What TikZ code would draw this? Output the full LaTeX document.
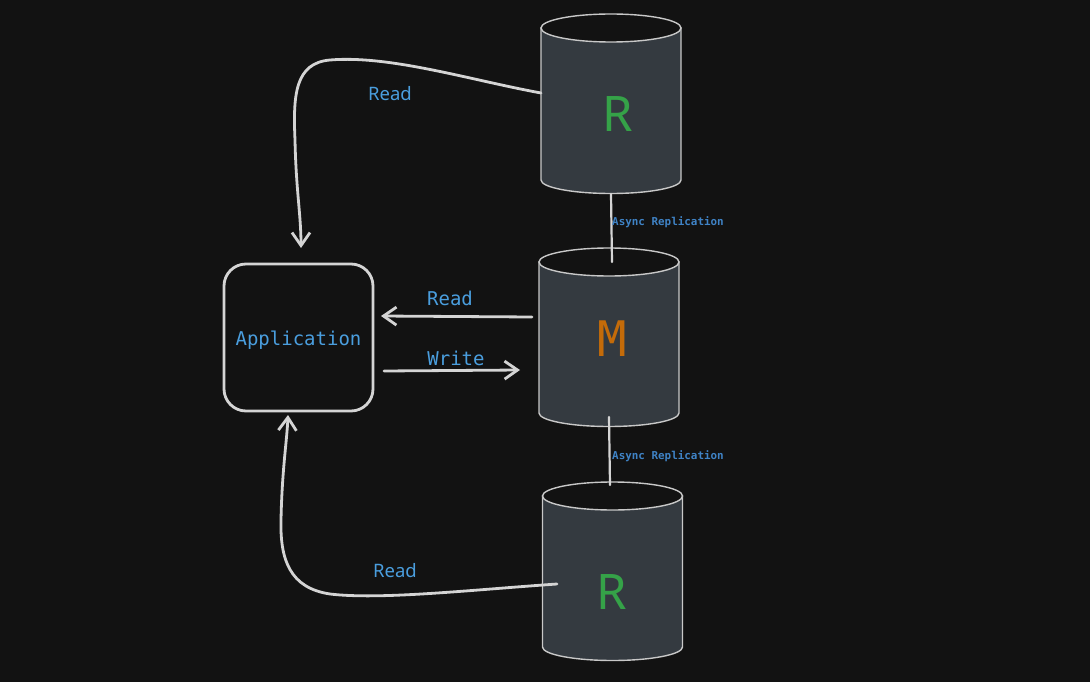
\documentclass[tikz,border=0pt]{standalone}
\usepackage{fontspec}
\setmainfont{Noto Sans}
\newfontfamily\monof{DejaVu Sans Mono}
\usetikzlibrary{arrows.meta}
\definecolor{bg}{HTML}{121212}
\definecolor{cylfill}{HTML}{343A40}
\definecolor{cylline}{HTML}{C8C8C8}
\definecolor{linec}{HTML}{D4D4D4}
\definecolor{lblue}{HTML}{4A9EDE}
\definecolor{ablue}{HTML}{3F83C6}
\definecolor{rgreen}{HTML}{35A248}
\definecolor{morange}{HTML}{C46B09}
\tikzset{
  conn/.style={draw=linec, line width=2.8pt, line cap=round},
  arr/.style={conn, -{Straight Barb[length=13pt,width=18pt,line width=2.8pt]}},
  cylbody/.style={fill=cylfill, draw=cylline, line width=1.4pt},
  cyltop/.style={fill=bg, draw=cylline, line width=1.4pt},
  lbl/.style={text=lblue, font=\monof\fontsize{19}{20}\selectfont, inner sep=0pt},
  slbl/.style={text=lblue, font=\fontsize{18.5}{20}\selectfont, inner sep=0pt},
  albl/.style={text=ablue, font=\monof\bfseries\fontsize{10.9}{12}\selectfont, inner sep=0pt},
  appbox/.style={draw=linec, line width=2.8pt, rounded corners=22pt, minimum width=149pt, minimum height=147pt, inner sep=0pt},
}
\newcommand\dbcyl[4]{% name, cx, ytop, ybot
  \path[cylbody] (#2-70,#3) -- (#2-70,#4) arc[start angle=180,end angle=0,x radius=70,y radius=13.5] -- (#2+70,#3) -- cycle;
  \path[cyltop] (#2,#3) ellipse[x radius=70,y radius=14];
  \node[minimum width=140pt, minimum height=#4-#3+28pt, inner sep=0pt] (#1) at (#2,{(#3+#4)/2}) {};
}
\begin{document}
\begin{tikzpicture}[x=1pt,y=-1pt]
\useasboundingbox[fill=bg] (0,0) rectangle (1090,682);
% cylinders
\dbcyl{r1}{611}{28}{180}
\dbcyl{m}{609}{262}{413}
\dbcyl{r2}{612.5}{496}{647}
\node[text=rgreen, font=\fontsize{49}{50}\selectfont, inner sep=0pt] (r1t) at (618,114) {R};
\node[text=morange, font=\monof\fontsize{49}{50}\selectfont, inner sep=0pt] (mt) at (612,339) {M};
\node[text=rgreen, font=\fontsize{49}{50}\selectfont, inner sep=0pt] (r2t) at (612,592) {R};
% application
\node[appbox] (app) at (298.5,337.5) {};
\node[lbl] (appt) at (298.5,340) {Application};
% connector endpoints
\coordinate (r1w) at (541,93);
\coordinate (appn) at (301,248);
\coordinate (mw1) at (532,317);
\coordinate (appe1) at (381,316);
\coordinate (appe2) at (384,371);
\coordinate (mw2) at (520,370);
\coordinate (r2w) at (557,584);
\coordinate (apps) at (288,415);
\coordinate (r1s) at (611,194);
\coordinate (mn) at (612,262);
\coordinate (ms) at (609,417);
\coordinate (r2n) at (610,485);
% arrows
\draw[arr] (r1w) .. controls (470,80) and (390,55) .. (330,60) .. controls (295,63) and (293,95) .. (295,140) .. controls (296,190) and (301,215) .. (appn);
\draw[arr] (mw1) -- (appe1);
\draw[arr] (appe2) -- (mw2);
\draw[arr] (r2w) .. controls (470,590) and (380,600) .. (330,594) .. controls (290,588) and (280,560) .. (281,520) .. controls (282,470) and (287,440) .. (apps);
\draw[conn, line width=2.2pt] (r1s) -- (mn);
\draw[conn, line width=2.2pt] (ms) -- (r2n);
% labels
\node[slbl] (l1) at (390,94) {Read};
\node[lbl] (l2) at (450,298) {Read};
\node[lbl] (l3) at (456,358) {Write};
\node[slbl] (l4) at (395,571) {Read};
\node[albl, anchor=west] (a1) at (612,222) {Async Replication};
\node[albl, anchor=west] (a2) at (612,456) {Async Replication};
\end{tikzpicture}
\end{document}
